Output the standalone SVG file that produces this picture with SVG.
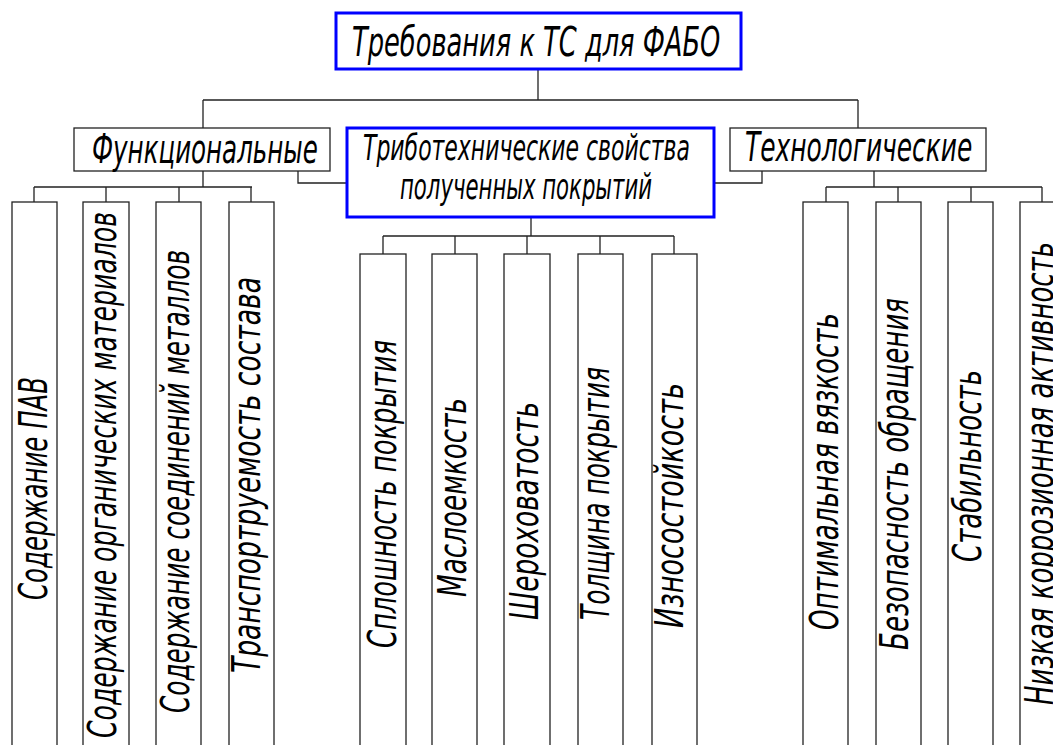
<svg xmlns="http://www.w3.org/2000/svg" width="1053" height="745" viewBox="0 0 1053 745">
<style>
.bg{fill:#fff}
.box{fill:#fff;stroke:#222;stroke-width:1.3}
.blue{fill:#fff;stroke:#0000ff;stroke-width:3}
.ln{fill:none;stroke:#222;stroke-width:1.3}
.t{font-family:"DejaVu Sans Condensed","DejaVu Sans","Liberation Sans",sans-serif;font-style:italic;font-size:41px;fill:#000}
.v{font-size:39px}
.s{font-size:36px}
</style>
<rect class="bg" x="0" y="0" width="1053" height="745"/>
<g id="connectors">
<path class="ln" d="M538,69 V100 M203,100 H858 M203,100 V128 M858,100 V128"/>
<path class="ln" d="M203,171 V187 M34,187 H252 M34,187 V202 M106,187 V202 M179,187 V202 M251,187 V202"/>
<path class="ln" d="M298,171 V183 H347"/>
<path class="ln" d="M714,183 H762 V171"/>
<path class="ln" d="M531,217 V236 M383,236 H674 M383,236 V254 M455,236 V254 M527,236 V254 M600,236 V254 M674,236 V254"/>
<path class="ln" d="M874,171 V187 M826,187 H1042 M826,187 V202 M898,187 V202 M971,187 V202 M1042,187 V202"/>
</g>
<g id="root">
<rect class="blue" x="336" y="13" width="405" height="56"/>
<text class="t" transform="translate(352,56) scale(0.75,1)" textLength="491" lengthAdjust="spacingAndGlyphs">Требования к ТС для ФАБО</text>
</g>
<g id="func">
<rect class="box" x="74" y="128" width="256" height="43"/>
<text class="t" transform="translate(92,163) scale(0.75,1)" textLength="301" lengthAdjust="spacingAndGlyphs">Функциональные</text>
</g>
<g id="tribo">
<rect class="blue" x="347" y="128" width="367" height="89"/>
<text class="t s" transform="translate(363,160) scale(0.75,1)" textLength="436" lengthAdjust="spacingAndGlyphs">Триботехнические свойства</text>
<text class="t s" transform="translate(400,199) scale(0.75,1)" textLength="336" lengthAdjust="spacingAndGlyphs">полученных покрытий</text>
</g>
<g id="tech">
<rect class="box" x="730" y="128" width="256" height="43"/>
<text class="t" transform="translate(745,161) scale(0.75,1)" textLength="303" lengthAdjust="spacingAndGlyphs">Технологические</text>
</g>
<g id="f1">
<rect class="box" x="12" y="202" width="45" height="560"/>
<text class="t v" transform="translate(47,600) rotate(-90)" textLength="223" lengthAdjust="spacingAndGlyphs">Содержание ПАВ</text>
</g>
<g id="f2">
<rect class="box" x="83" y="202" width="46" height="560"/>
<text class="t v" transform="translate(116,738) rotate(-90)" textLength="526" lengthAdjust="spacingAndGlyphs">Содержание органических материалов</text>
</g>
<g id="f3">
<rect class="box" x="156" y="202" width="45" height="560"/>
<text class="t v" transform="translate(189,713) rotate(-90)" textLength="463" lengthAdjust="spacingAndGlyphs">Содержание соединений металлов</text>
</g>
<g id="f4">
<rect class="box" x="229" y="202" width="45" height="560"/>
<text class="t v" transform="translate(260,673) rotate(-90)" textLength="396" lengthAdjust="spacingAndGlyphs">Транспортруемость состава</text>
</g>
<g id="m1">
<rect class="box" x="360" y="254" width="46" height="510"/>
<text class="t v" transform="translate(396,648) rotate(-90)" textLength="308" lengthAdjust="spacingAndGlyphs">Сплошность покрытия</text>
</g>
<g id="m2">
<rect class="box" x="432" y="254" width="45" height="510"/>
<text class="t v" transform="translate(466,597) rotate(-90)" textLength="199" lengthAdjust="spacingAndGlyphs">Маслоемкость</text>
</g>
<g id="m3">
<rect class="box" x="504" y="254" width="46" height="510"/>
<text class="t v" transform="translate(538,620) rotate(-90)" textLength="218" lengthAdjust="spacingAndGlyphs">Шероховатость</text>
</g>
<g id="m4">
<rect class="box" x="578" y="254" width="45" height="510"/>
<text class="t v" transform="translate(609,620) rotate(-90)" textLength="253" lengthAdjust="spacingAndGlyphs">Толщина покрытия</text>
</g>
<g id="m5">
<rect class="box" x="652" y="254" width="45" height="510"/>
<text class="t v" transform="translate(683,628) rotate(-90)" textLength="245" lengthAdjust="spacingAndGlyphs">Износостойкость</text>
</g>
<g id="t1">
<rect class="box" x="803" y="202" width="45" height="560"/>
<text class="t v" transform="translate(838,630) rotate(-90)" textLength="317" lengthAdjust="spacingAndGlyphs">Оптимальная вязкость</text>
</g>
<g id="t2">
<rect class="box" x="876" y="202" width="45" height="560"/>
<text class="t v" transform="translate(908,650) rotate(-90)" textLength="352" lengthAdjust="spacingAndGlyphs">Безопасность обращения</text>
</g>
<g id="t3">
<rect class="box" x="948" y="202" width="45" height="560"/>
<text class="t v" transform="translate(981,562) rotate(-90)" textLength="192" lengthAdjust="spacingAndGlyphs">Стабильность</text>
</g>
<g id="t4">
<rect class="box" x="1020" y="202" width="45" height="560"/>
<text class="t v" transform="translate(1053,705) rotate(-90)" textLength="463" lengthAdjust="spacingAndGlyphs">Низкая коррозионная активность</text>
</g>
</svg>
